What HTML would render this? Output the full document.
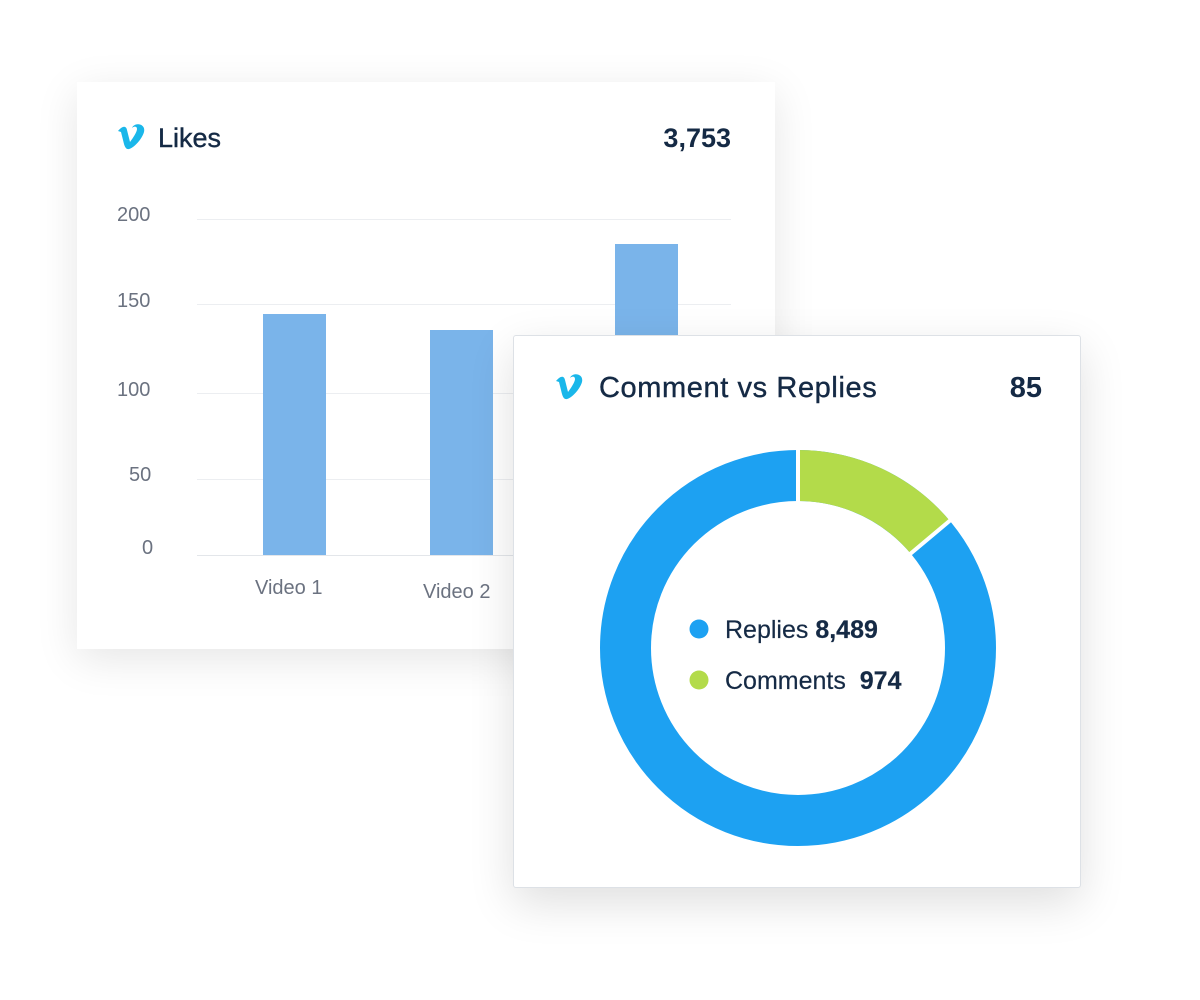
<!DOCTYPE html>
<html><head><meta charset="utf-8"><style>
body{margin:0;width:1200px;height:1000px;background:#fff;position:relative;font-family:"Liberation Sans",sans-serif;overflow:hidden}
.card{position:absolute;background:#fff}
#c1{left:77px;top:82px;width:698px;height:567px;box-shadow:0 10px 40px rgba(0,0,0,.10)}
#c2{left:513px;top:335px;width:566px;height:551px;border:1px solid #dde1e6;border-radius:3px;box-shadow:0 15px 45px rgba(0,0,0,.13)}
.t{position:absolute;color:#152a45;font-size:27px;-webkit-text-stroke:0.4px #152a45;line-height:1}
.n{position:absolute;color:#152a45;font-weight:bold;font-size:27px;line-height:1}
.ax{position:absolute;color:#6b7280;font-size:20px;line-height:1}
.g{position:absolute;left:120px;width:534px;height:1px;background:#eceef1}
.bar{position:absolute;background:#7ab4ea;width:63px}
</style></head><body>
<div class="card" id="c1">
<svg style="position:absolute;left:40px;top:42px" width="30" height="26" viewBox="0 0 30 26"><path d="M1 7 C5 2 9 1 10 6 L13 18 C16 14 20 8 20 5 C20 2 17 2 15 4 C17 -2 29 -1 27 8 C25 15 17 24 12 25 C8 26 7 20 6 16 L4 8 Z" fill="#1ab7ea"/></svg>
<div class="t" style="left:81px;top:43px">Likes</div>
<div class="n" style="right:44px;top:43px">3,753</div>
<div class="g" style="top:137px"></div><div class="g" style="top:222px"></div><div class="g" style="top:311px"></div><div class="g" style="top:397px"></div><div class="g" style="top:473px;background:#e3e6ea"></div>
<div class="ax" style="left:40px;top:123px">200</div>
<div class="ax" style="left:40px;top:209px">150</div>
<div class="ax" style="left:40px;top:298px">100</div>
<div class="ax" style="left:52px;top:383px">50</div>
<div class="ax" style="left:65px;top:456px">0</div>
<div class="bar" style="left:186px;top:232px;height:241px"></div>
<div class="bar" style="left:353px;top:248px;height:225px"></div>
<div class="bar" style="left:538px;top:162px;height:311px"></div>
<div class="ax" style="left:178px;top:496px">Video 1</div>
<div class="ax" style="left:346px;top:500px">Video 2</div>
</div>
<div class="card" id="c2">
<svg style="position:absolute;left:41px;top:38px" width="30" height="26" viewBox="0 0 30 26"><path d="M1 7 C5 2 9 1 10 6 L13 18 C16 14 20 8 20 5 C20 2 17 2 15 4 C17 -2 29 -1 27 8 C25 15 17 24 12 25 C8 26 7 20 6 16 L4 8 Z" fill="#1ab7ea"/></svg>
<div class="t" style="left:85px;top:38px;font-size:29px;letter-spacing:0.6px">Comment vs Replies</div>
<div class="n" style="right:38px;top:38px;font-size:29px">85</div>
<svg style="position:absolute;left:0;top:0" width="566" height="551">
<g transform="translate(284,312)">
<circle r="172.5" fill="none" stroke="#1da1f2" stroke-width="51"/>
<path d="M0 -198 A198 198 0 0 1 151.7 -127.3 L112.6 -94.5 A147 147 0 0 0 0 -147 Z" fill="#b3db4a"/>
<line x1="0" y1="-200" x2="0" y2="-145" stroke="#fff" stroke-width="4"/>
<line x1="0" y1="0" x2="155" y2="-130" stroke="#fff" stroke-width="4" stroke-dasharray="0 112 70"/>
</g>
<circle cx="185" cy="293" r="9.5" fill="#1da1f2"/>
<circle cx="185" cy="344" r="9.5" fill="#b3db4a"/>
</svg>
<div class="t" style="left:211px;top:282px;font-size:25px;-webkit-text-stroke:0.2px #152a45">Replies <b>8,489</b></div>
<div class="t" style="left:211px;top:333px;font-size:25px;-webkit-text-stroke:0.2px #152a45">Comments&nbsp; <b>974</b></div>
</div>
</body></html>
